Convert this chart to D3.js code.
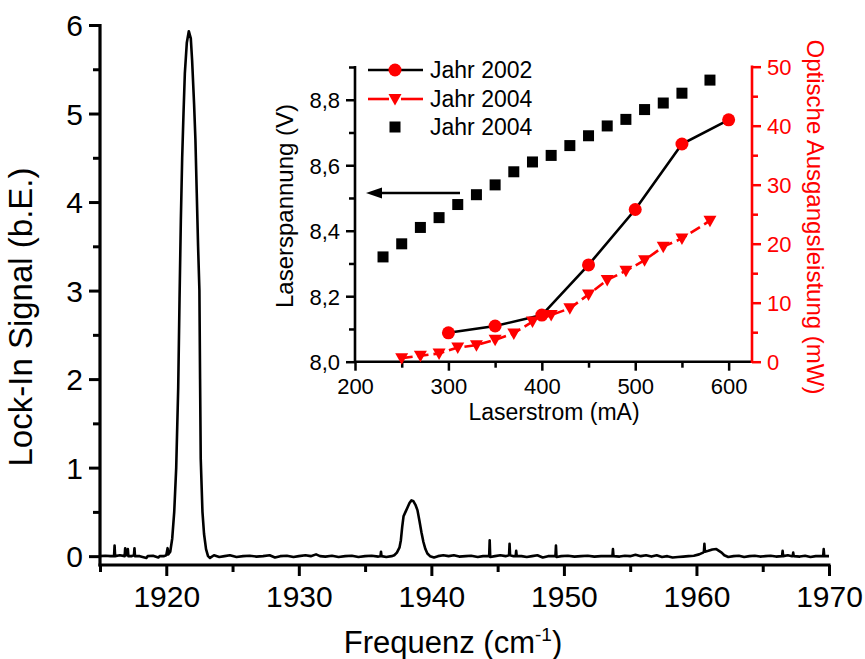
<!DOCTYPE html>
<html>
<head>
<meta charset="utf-8">
<script src="https://cdn.jsdelivr.net/npm/d3@7"></script>
<style>
  html, body { margin: 0; padding: 0; background: #fff; }
  svg text { font-family: "Liberation Sans", Arial, Helvetica, sans-serif; }
</style>
</head>
<body>
<svg id="chart" width="865" height="659"></svg>
<script>
// ---------------- DATA ----------------
// Main spectrum: [Frequenz (cm^-1), Lock-In Signal (b.E.)]
const spektrum = [
  [1915.0,0.0],[1915.4,0.005],[1915.8,0.0],[1916.06,0.0],[1916.1,0.12],[1916.14,0.0],[1916.5,0.01],
  [1916.86,0.0],[1916.9,0.09],[1916.94,0.01],[1917.06,0.01],[1917.1,0.08],[1917.14,0.0],[1917.4,0.0],
  [1917.56,0.01],[1917.6,0.09],[1917.64,0.0],[1918.0,0.0],[1918.5,-0.02],[1918.6,0.0],[1919.0,0.005],
  [1919.4,-0.015],[1919.5,0.0],[1919.8,0.0],[1920.0,0.01],[1920.1,0.09],[1920.15,0.02],
  [1920.3,0.05],[1920.45,0.2],[1920.6,0.5],[1920.75,1.0],[1920.9,1.9],[1921.0,2.9],[1921.1,3.8],
  [1921.2,4.5],[1921.3,5.0],[1921.4,5.45],[1921.55,5.8],[1921.7,5.93],[1921.85,5.85],[1921.95,5.6],
  [1922.1,5.1],[1922.2,4.7],[1922.3,4.1],[1922.4,3.5],[1922.5,3.0],[1922.55,2.0],[1922.6,1.1],
  [1922.73,0.5],[1922.85,0.25],[1923.0,0.08],[1923.15,0.0],
  [1923.3,-0.02],[1923.6,0.01],[1924.0,-0.01],[1924.4,0.0],[1924.8,0.01],[1925.3,-0.01],[1925.8,0.0],
  [1926.3,0.005],[1926.8,-0.005],[1927.3,0.0],[1927.8,0.01],[1928.2,-0.015],[1928.6,0.0],[1929.1,0.005],
  [1929.6,-0.01],[1930.0,0.0],[1930.5,0.01],[1930.9,0.0],[1931.3,0.02],[1931.6,0.0],[1932.0,-0.005],
  [1932.5,0.005],[1933.0,-0.01],[1933.5,0.0],[1934.0,0.005],[1934.5,-0.01],[1935.0,0.0],[1935.5,0.005],
  [1936.0,-0.005],[1936.16,0.0],[1936.2,0.05],[1936.24,0.0],[1936.6,-0.01],[1937.0,0.0],
  [1937.2,0.01],[1937.4,0.04],[1937.6,0.1],[1937.7,0.18],[1937.8,0.33],[1937.9,0.45],[1938.05,0.5],
  [1938.2,0.55],[1938.35,0.6],[1938.5,0.63],[1938.65,0.62],[1938.8,0.58],[1938.95,0.52],[1939.1,0.4],
  [1939.25,0.27],[1939.4,0.16],[1939.55,0.08],[1939.7,0.03],[1939.9,0.0],
  [1940.2,-0.015],[1940.5,0.0],[1940.9,0.01],[1941.3,0.0],[1941.7,0.01],[1942.1,-0.005],[1942.6,0.0],
  [1943.0,0.005],[1943.5,-0.01],[1943.9,0.0],[1944.36,0.0],[1944.4,0.18],[1944.44,-0.01],[1944.8,0.0],
  [1945.2,0.01],[1945.6,0.0],[1945.86,0.01],[1945.9,0.14],[1945.94,0.01],[1946.2,0.0],[1946.36,0.0],
  [1946.4,0.06],[1946.44,0.0],[1946.8,0.0],[1947.2,-0.01],[1947.6,0.0],[1948.0,0.01],[1948.4,-0.015],
  [1948.8,0.0],[1949.36,0.0],[1949.4,0.12],[1949.44,-0.01],[1949.8,0.0],[1950.3,0.005],[1950.8,-0.005],
  [1951.3,0.0],[1951.8,0.005],[1952.3,-0.005],[1952.8,0.0],[1953.3,0.0],[1953.66,0.0],[1953.7,0.08],
  [1953.74,0.0],[1954.2,-0.005],[1954.6,0.005],[1955.0,0.0],[1955.4,0.015],[1955.8,0.0],[1956.2,0.01],
  [1956.6,-0.005],[1957.0,0.01],[1957.4,-0.01],[1957.8,0.0],[1958.2,-0.015],[1958.6,-0.01],[1959.0,-0.005],
  [1959.4,0.0],[1959.8,0.005],[1960.2,0.02],[1960.5,0.04],[1960.56,0.05],[1960.6,0.14],[1960.64,0.05],
  [1960.9,0.06],[1961.2,0.075],[1961.5,0.08],[1961.7,0.06],[1961.9,0.04],[1962.1,0.01],[1962.4,-0.01],
  [1962.8,0.0],[1963.2,0.005],[1963.6,-0.01],[1964.0,0.0],[1964.4,0.005],[1964.8,-0.005],[1965.2,0.0],
  [1965.6,0.005],[1966.0,-0.005],[1966.46,0.0],[1966.5,0.06],[1966.54,0.0],[1966.9,0.01],[1967.2,0.0],
  [1967.26,0.0],[1967.3,0.04],[1967.34,0.0],[1967.8,-0.005],[1968.2,0.005],[1968.6,-0.01],[1969.0,0.0],
  [1969.56,0.0],[1969.6,0.08],[1969.64,0.0],[1970.0,0.0]
];
const mainXTicks = [1920, 1930, 1940, 1950, 1960, 1970];
const mainXMinor = [1915, 1925, 1935, 1945, 1955, 1965];
const mainYTicks = [0, 1, 2, 3, 4, 5, 6];
const mainYMinor = [0.5, 1.5, 2.5, 3.5, 4.5, 5.5];

// Inset data
const strom2002 = [300, 350, 400, 450, 500, 550, 600];
const leistung2002 = [4.9, 6.05, 7.9, 16.4, 25.8, 36.9, 41.0];
const strom2004 = [250, 270, 290, 310, 330, 350, 370, 390, 410, 430, 450, 470, 490, 510, 530, 550, 580];
const leistung2004 = [0.6, 1.0, 1.4, 2.4, 2.8, 3.7, 4.8, 6.8, 7.9, 9.05, 11.4, 13.85, 15.4, 17.2, 19.5, 20.9, 23.9];
const stromSpannung = [230, 250, 270, 290, 310, 330, 350, 370, 390, 410, 430, 450, 470, 490, 510, 530, 550, 580];
const spannung = [8.32, 8.36, 8.41, 8.44, 8.48, 8.51, 8.54, 8.58, 8.61, 8.63, 8.66, 8.69, 8.72, 8.74, 8.77, 8.79, 8.82, 8.86];
const insetXTicks = [200, 300, 400, 500, 600];
const insetXMinor = [250, 350, 450, 550];
const insetYLeftTicks = [8.0, 8.2, 8.4, 8.6, 8.8];
const insetYLeftMinor = [8.1, 8.3, 8.5, 8.7, 8.9];
const insetYRightTicks = [0, 10, 20, 30, 40, 50];
const insetYRightMinor = [5, 15, 25, 35, 45];
const legendLabels = ["Jahr 2002", "Jahr 2004", "Jahr 2004"];

// ---------------- DRAW ----------------
const svg = d3.select("#chart");
const RED = "#ff0000";

// main scales
const x = d3.scaleLinear().domain([1915, 1970]).range([100, 829]);
const y = d3.scaleLinear().domain([-0.1, 6]).range([565, 25]);

function styleAxis(g, color, width, fontSize) {
  g.select(".domain").remove();
  g.selectAll(".tick line").attr("stroke", color).attr("stroke-width", width);
  g.selectAll(".tick text").attr("fill", color).style("font-size", fontSize + "px");
}

// main spectrum line
svg.append("path")
  .datum(spektrum)
  .attr("fill", "none")
  .attr("stroke", "#000")
  .attr("stroke-width", 2.6)
  .attr("stroke-linejoin", "round")
  .attr("d", d3.line().x(d => x(d[0])).y(d => y(d[1])));

// main bottom axis
const gxMin = svg.append("g").attr("transform", "translate(0,565)")
  .call(d3.axisBottom(x).tickValues(mainXMinor).tickSize(7).tickFormat(""));
styleAxis(gxMin, "#000", 3, 30);
const gx = svg.append("g").attr("transform", "translate(0,565)")
  .call(d3.axisBottom(x).tickValues(mainXTicks).tickSize(11).tickPadding(10).tickFormat(d3.format("d")));
styleAxis(gx, "#000", 3, 30);
gx.selectAll(".tick text").attr("dy", null).attr("y", 42);

// main left axis
const gyMin = svg.append("g").attr("transform", "translate(100,0)")
  .call(d3.axisLeft(y).tickValues(mainYMinor).tickSize(7).tickFormat(""));
styleAxis(gyMin, "#000", 3, 30);
const gy = svg.append("g").attr("transform", "translate(100,0)")
  .call(d3.axisLeft(y).tickValues(mainYTicks).tickSize(11).tickPadding(6).tickFormat(d3.format("d")));
styleAxis(gy, "#000", 3, 30);
gy.selectAll(".tick text").attr("dy", "0.36em");

// axis lines
svg.append("line").attr("x1", 100).attr("x2", 100).attr("y1", y(6) - 1).attr("y2", 566.5)
  .attr("stroke", "#000").attr("stroke-width", 3.2);
svg.append("line").attr("x1", 98.5).attr("x2", x(1970) + 1.5).attr("y1", 565).attr("y2", 565)
  .attr("stroke", "#000").attr("stroke-width", 3.2);

// main titles
const xt = svg.append("text").attr("x", 453).attr("y", 653).attr("text-anchor", "middle")
  .style("font-size", "31px").attr("fill", "#000");
xt.append("tspan").text("Frequenz (cm");
xt.append("tspan").attr("dy", -12).style("font-size", "19px").text("-1");
xt.append("tspan").attr("dy", 12).text(")");

svg.append("text").attr("transform", "translate(32,317) rotate(-90)")
  .attr("text-anchor", "middle").style("font-size", "33px").attr("fill", "#000")
  .text("Lock-In Signal (b.E.)");

// ---------------- INSET ----------------
const ix = d3.scaleLinear().domain([200, 625]).range([355, 752]);
const iyL = d3.scaleLinear().domain([8.0, 8.9]).range([361.7, 67]);
const iyR = d3.scaleLinear().domain([0, 50]).range([361.7, 66.7]);
const commaFmt = v => d3.format(".1f")(v).replace(".", ",");

// bottom axis
const ixMin = svg.append("g").attr("transform", "translate(0,361.7)")
  .call(d3.axisBottom(ix).tickValues(insetXMinor).tickSize(6).tickFormat(""));
styleAxis(ixMin, "#000", 2.5, 22);
const ixg = svg.append("g").attr("transform", "translate(0,361.7)")
  .call(d3.axisBottom(ix).tickValues(insetXTicks).tickSize(9).tickFormat(d3.format("d")));
styleAxis(ixg, "#000", 2.5, 22);
ixg.selectAll(".tick text").attr("dy", null).attr("y", 32.5);

// left axis
const iyLMin = svg.append("g").attr("transform", "translate(355,0)")
  .call(d3.axisLeft(iyL).tickValues(insetYLeftMinor).tickSize(6).tickFormat(""));
styleAxis(iyLMin, "#000", 2.5, 22);
const iyLg = svg.append("g").attr("transform", "translate(355,0)")
  .call(d3.axisLeft(iyL).tickValues(insetYLeftTicks).tickSize(9).tickPadding(6).tickFormat(commaFmt));
styleAxis(iyLg, "#000", 2.5, 22);
iyLg.selectAll(".tick text").attr("dy", "0.36em");

// right axis
const iyRMin = svg.append("g").attr("transform", "translate(752,0)")
  .call(d3.axisRight(iyR).tickValues(insetYRightMinor).tickSize(6).tickFormat(""));
styleAxis(iyRMin, RED, 2.5, 22);
const iyRg = svg.append("g").attr("transform", "translate(752,0)")
  .call(d3.axisRight(iyR).tickValues(insetYRightTicks).tickSize(9).tickPadding(6).tickFormat(d3.format("d")));
styleAxis(iyRg, RED, 2.5, 22);
iyRg.selectAll(".tick text").attr("dy", "0.36em");

// inset axis lines
svg.append("line").attr("x1", 355).attr("x2", 355).attr("y1", 66).attr("y2", 363)
  .attr("stroke", "#000").attr("stroke-width", 2.6);
svg.append("line").attr("x1", 354).attr("x2", 752).attr("y1", 361.7).attr("y2", 361.7)
  .attr("stroke", "#000").attr("stroke-width", 2.6);
svg.append("line").attr("x1", 752).attr("x2", 752).attr("y1", 65.5).attr("y2", 363)
  .attr("stroke", RED).attr("stroke-width", 2.6);

// inset titles
svg.append("text").attr("x", 554).attr("y", 420).attr("text-anchor", "middle")
  .style("font-size", "23px").attr("fill", "#000").text("Laserstrom (mA)");
svg.append("text").attr("transform", "translate(293,206) rotate(-90)")
  .attr("text-anchor", "middle").style("font-size", "24px").attr("fill", "#000")
  .text("Laserspannung (V)");
svg.append("text").attr("transform", "translate(807,217) rotate(90)")
  .attr("text-anchor", "middle").style("font-size", "24px").attr("fill", RED)
  .text("Optische Ausgangsleistung (mW)");

// series
const d2004 = strom2004.map((s, i) => [s, leistung2004[i]]);
const d2002 = strom2002.map((s, i) => [s, leistung2002[i]]);
const dSp = stromSpannung.map((s, i) => [s, spannung[i]]);
const lineR = d3.line().x(d => ix(d[0])).y(d => iyR(d[1]));

svg.append("path").datum(d2004).attr("fill", "none").attr("stroke", RED)
  .attr("stroke-width", 2.6).attr("stroke-dasharray", "11,5").attr("d", lineR);
svg.append("path").datum(d2002).attr("fill", "none").attr("stroke", "#000")
  .attr("stroke-width", 2.6).attr("d", lineR);

const triPath = "M-6.5,-5 L6.5,-5 L0,6.5 Z";
svg.append("g").selectAll("path").data(d2004).join("path")
  .attr("d", triPath).attr("fill", RED)
  .attr("transform", d => `translate(${ix(d[0])},${iyR(d[1])})`);
svg.append("g").selectAll("circle").data(d2002).join("circle")
  .attr("cx", d => ix(d[0])).attr("cy", d => iyR(d[1])).attr("r", 6.5).attr("fill", RED);
svg.append("g").selectAll("rect").data(dSp).join("rect")
  .attr("x", d => ix(d[0]) - 5.5).attr("y", d => iyL(d[1]) - 5.5)
  .attr("width", 11).attr("height", 11).attr("fill", "#000");

// arrow pointing to left axis
svg.append("line").attr("x1", 460).attr("x2", 376).attr("y1", 193).attr("y2", 193)
  .attr("stroke", "#000").attr("stroke-width", 2.6);
svg.append("path").attr("d", "M366,193 L382,187.5 L382,198.5 Z").attr("fill", "#000");

// legend
const legY = [70, 99, 127];
const lg = svg.append("g");
lg.append("line").attr("x1", 368).attr("x2", 423).attr("y1", legY[0]).attr("y2", legY[0])
  .attr("stroke", "#000").attr("stroke-width", 2.6);
lg.append("circle").attr("cx", 395).attr("cy", legY[0]).attr("r", 6.5).attr("fill", RED);
lg.append("line").attr("x1", 368).attr("x2", 389).attr("y1", legY[1]).attr("y2", legY[1])
  .attr("stroke", RED).attr("stroke-width", 2.6);
lg.append("line").attr("x1", 401).attr("x2", 423).attr("y1", legY[1]).attr("y2", legY[1])
  .attr("stroke", RED).attr("stroke-width", 2.6);
lg.append("path").attr("d", triPath).attr("fill", RED).attr("transform", `translate(395,${legY[1]})`);
lg.append("rect").attr("x", 395 - 5.5).attr("y", legY[2] - 5.5).attr("width", 11).attr("height", 11).attr("fill", "#000");
legendLabels.forEach((t, i) => {
  lg.append("text").attr("x", 430).attr("y", legY[i] + 8).style("font-size", "23px")
    .attr("fill", "#000").text(t);
});
</script>
</body>
</html>
